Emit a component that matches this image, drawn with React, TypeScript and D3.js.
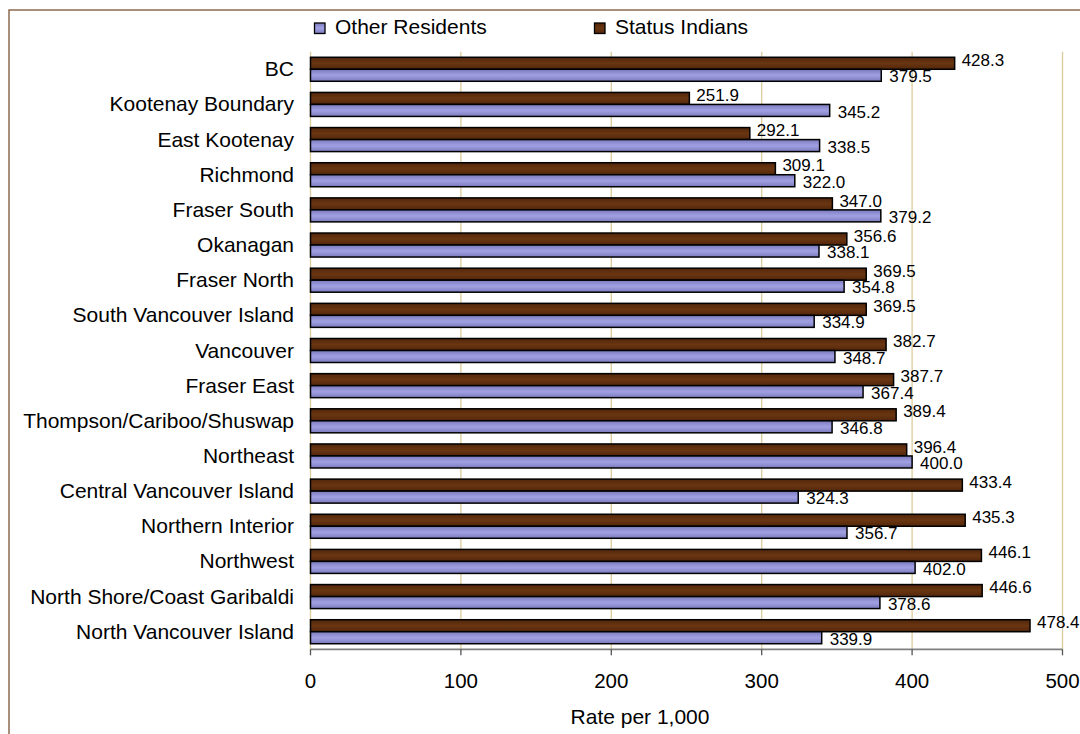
import React from "react";
import * as d3 from "d3";

const categories = [
  "BC",
  "Kootenay Boundary",
  "East Kootenay",
  "Richmond",
  "Fraser South",
  "Okanagan",
  "Fraser North",
  "South Vancouver Island",
  "Vancouver",
  "Fraser East",
  "Thompson/Cariboo/Shuswap",
  "Northeast",
  "Central Vancouver Island",
  "Northern Interior",
  "Northwest",
  "North Shore/Coast Garibaldi",
  "North Vancouver Island",
];
const statusIndians = [428.3, 251.9, 292.1, 309.1, 347.0, 356.6, 369.5, 369.5, 382.7, 387.7, 389.4, 396.4, 433.4, 435.3, 446.1, 446.6, 478.4];
const otherResidents = [379.5, 345.2, 338.5, 322.0, 379.2, 338.1, 354.8, 334.9, 348.7, 367.4, 346.8, 400.0, 324.3, 356.7, 402.0, 378.6, 339.9];
const xTicks = [0, 100, 200, 300, 400, 500];
const seriesNames = ["Other Residents", "Status Indians"];
const axisTitle = "Rate per 1,000";

const W = 1080;
const H = 734;
const plot = { left: 310.5, right: 1062.5, top: 51.7, bottom: 649.3 };
const FONT = "'Liberation Sans', Arial, sans-serif";

export default function App() {
  const x = d3.scaleLinear().domain([0, 500]).range([plot.left, plot.right]);
  const y = d3
    .scaleBand<string>()
    .domain(categories)
    .range([plot.top, plot.bottom])
    .paddingInner(0.317)
    .paddingOuter(0.1585);
  const bw = y.bandwidth() / 2;
  const fmt = d3.format(".1f");

  return (
    <svg
      width={W}
      height={H}
      style={{ position: "absolute", left: 0, top: 0, background: "#fff" }}
      fontFamily={FONT}
    >
      <defs>
        <linearGradient id="gBlue" x1="0" y1="0" x2="0" y2="1">
          <stop offset="0" stopColor="#7a7abd" />
          <stop offset="0.45" stopColor="#9d9de0" />
          <stop offset="0.55" stopColor="#9d9de0" />
          <stop offset="1" stopColor="#7a7abd" />
        </linearGradient>
        <linearGradient id="gBrown" x1="0" y1="0" x2="0" y2="1">
          <stop offset="0" stopColor="#52260a" />
          <stop offset="0.5" stopColor="#6a3612" />
          <stop offset="1" stopColor="#52260a" />
        </linearGradient>
      </defs>
      <rect x={0} y={0} width={W} height={H} fill="#fff" />
      {/* outer frame */}
      <rect x={9} y={10} width={1200} height={1000} fill="none" stroke="#8b6b50" strokeWidth={1.5} />

      {/* legend */}
      <rect x={314.5} y={23} width={10.5} height={10.5} fill="url(#gBlue)" stroke="#000" strokeWidth={1.3} />
      <text x={335} y={34.3} fontSize={21} fill="#000">{seriesNames[0]}</text>
      <rect x={594.5} y={23} width={10.5} height={10.5} fill="url(#gBrown)" stroke="#000" strokeWidth={1.3} />
      <text x={615} y={34.3} fontSize={21} fill="#000">{seriesNames[1]}</text>

      {/* gridlines */}
      {xTicks.map((t) => (
        <line key={"g" + t} x1={x(t)} x2={x(t)} y1={plot.top} y2={plot.bottom} stroke="#dccb9c" strokeWidth={1.3} />
      ))}

      {/* bars */}
      {categories.map((c, i) => {
        const y0 = y(c)!;
        return (
          <g key={c}>
            <rect x={x(0)} y={y0} width={x(statusIndians[i]) - x(0)} height={bw} fill="url(#gBrown)" stroke="#000" strokeWidth={1.5} />
            <rect x={x(0)} y={y0 + bw} width={x(otherResidents[i]) - x(0)} height={bw} fill="url(#gBlue)" stroke="#000" strokeWidth={1.5} />
          </g>
        );
      })}

      {/* data labels */}
      {categories.map((c, i) => {
        const y0 = y(c)!;
        return (
          <g key={"l" + c} fontSize={17} fill="#000">
            <text x={x(statusIndians[i]) + 7} y={y0 + bw / 2 - 3.5} dy="0.36em">{fmt(statusIndians[i])}</text>
            <text x={x(otherResidents[i]) + 8} y={y0 + bw * 1.5 + 1} dy="0.36em">{fmt(otherResidents[i])}</text>
          </g>
        );
      })}

      {/* category labels */}
      {categories.map((c) => (
        <text key={"c" + c} x={294} y={y(c)! + y.bandwidth() / 2 + 7} textAnchor="end" fontSize={21} fill="#000">
          {c}
        </text>
      ))}

      {/* x axis */}
      <line x1={plot.left} x2={plot.right} y1={plot.bottom} y2={plot.bottom} stroke="#808080" strokeWidth={1.8} />
      {xTicks.map((t) => (
        <g key={"t" + t}>
          <line x1={x(t)} x2={x(t)} y1={plot.bottom} y2={plot.bottom + 6} stroke="#555" strokeWidth={1.3} />
          <text x={x(t)} y={688} textAnchor="middle" fontSize={20.5} fill="#000">{t}</text>
        </g>
      ))}
      <text x={640} y={724} textAnchor="middle" fontSize={21} fill="#000">{axisTitle}</text>
    </svg>
  );
}
